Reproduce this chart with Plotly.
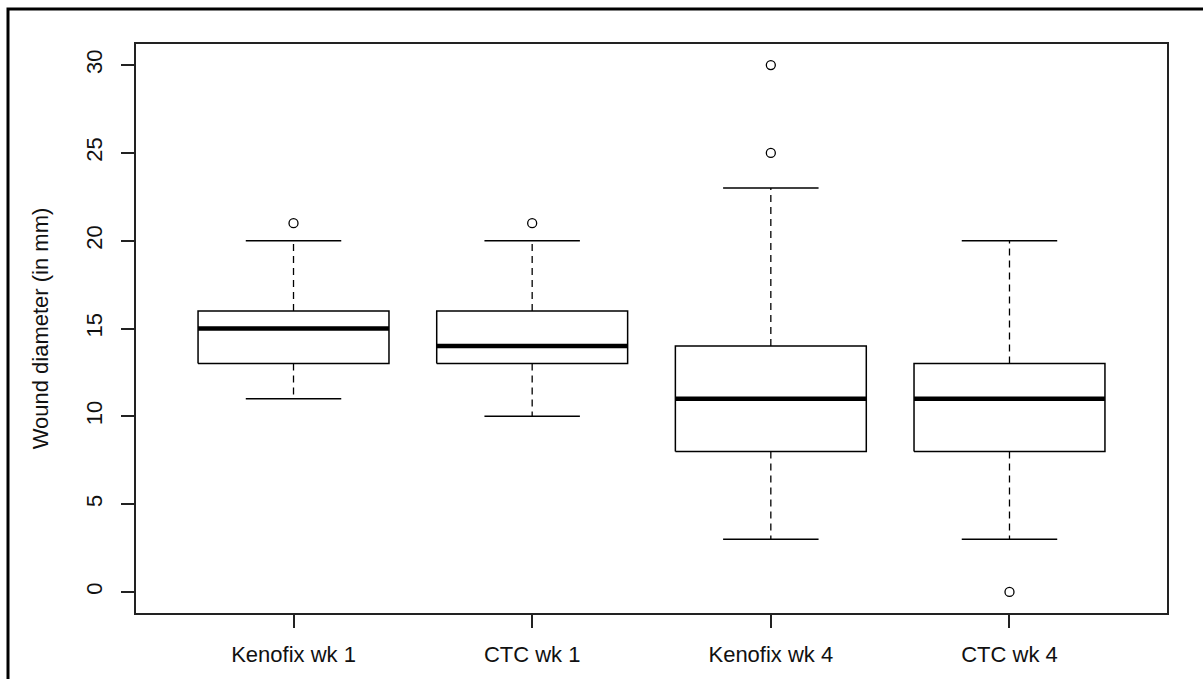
import plotly.graph_objects as go

categories = ["Kenofix wk 1", "CTC wk 1", "Kenofix wk 4", "CTC wk 4"]
lower_whisker = [11, 10, 3, 3]
q1 = [13, 13, 8, 8]
median = [15, 14, 11, 11]
q3 = [16, 16, 14, 13]
upper_whisker = [20, 20, 23, 20]
outliers = [[21], [21], [25, 30], [0]]
y_ticks = [0, 5, 10, 15, 20, 25, 30]

BOX_HALF = 0.4
CAP_HALF = 0.2
FONT = "Liberation Sans, Arial, sans-serif"

fig = go.Figure()
for i, cat in enumerate(categories):
    x = i + 1
    # dashed whiskers
    for a, b in [(q3[i], upper_whisker[i]), (q1[i], lower_whisker[i])]:
        fig.add_trace(go.Scatter(x=[x, x], y=[a, b], mode="lines",
                                 line=dict(color="black", width=1.3, dash="7px,5px"),
                                 hoverinfo="skip", showlegend=False))
    # caps
    for v in [upper_whisker[i], lower_whisker[i]]:
        fig.add_trace(go.Scatter(x=[x - CAP_HALF, x + CAP_HALF], y=[v, v], mode="lines",
                                 line=dict(color="black", width=1.5),
                                 hoverinfo="skip", showlegend=False))
    # box
    fig.add_trace(go.Scatter(
        x=[x - BOX_HALF, x + BOX_HALF, x + BOX_HALF, x - BOX_HALF, x - BOX_HALF],
        y=[q1[i], q1[i], q3[i], q3[i], q1[i]], mode="lines",
        line=dict(color="black", width=1.5), hoverinfo="skip", showlegend=False))
    # median
    fig.add_trace(go.Scatter(x=[x - BOX_HALF, x + BOX_HALF], y=[median[i], median[i]],
                             mode="lines", line=dict(color="black", width=4.5),
                             hoverinfo="skip", showlegend=False))
    # outliers
    fig.add_trace(go.Scatter(x=[x] * len(outliers[i]), y=outliers[i], mode="markers",
                             marker=dict(symbol="circle-open", size=9,
                                         color="black", line=dict(width=1.3)),
                             hoverinfo="skip", showlegend=False))

W, H = 1203, 679
L, R, T, B = 136, 36, 44, 66
pw, ph = W - L - R, H - T - B

fig.update_layout(
    width=W, height=H,
    margin=dict(l=L, r=R, t=T, b=B),
    plot_bgcolor="white", paper_bgcolor="white",
    font=dict(family=FONT, size=22, color="black"),
    xaxis=dict(range=[0.34, 4.66], tickmode="array", tickvals=[1, 2, 3, 4],
               ticktext=categories, ticks="outside", ticklen=13, tickwidth=1.5,
               tickcolor="#222", showline=True, linecolor="#222", linewidth=1.5,
               mirror=True, showgrid=False, zeroline=False,
               tickfont=dict(size=22, color="#111"), ticklabelstandoff=8),
    yaxis=dict(range=[-1.2, 31.2], tickmode="array", tickvals=y_ticks,
               ticktext=[str(v) for v in y_ticks], tickangle=-90,
               ticks="outside", ticklen=13, tickwidth=1.5, tickcolor="#222",
               showline=True, linecolor="#222", linewidth=1.5, mirror=True,
               showgrid=False, zeroline=False,
               tickfont=dict(size=22, color="#111"), ticklabelstandoff=10,
               title=dict(text="Wound diameter (in mm)", standoff=28,
                          font=dict(size=22, color="#111"))),
    shapes=[dict(type="rect", xref="paper", yref="paper",
                 x0=(8 - L) / pw, x1=(W + 20 - L) / pw,
                 y0=-(H + 20 - T - ph) / ph, y1=1 + (T - 9) / ph,
                 line=dict(color="black", width=3), layer="below")],
)

fig.write_html("out.html")
